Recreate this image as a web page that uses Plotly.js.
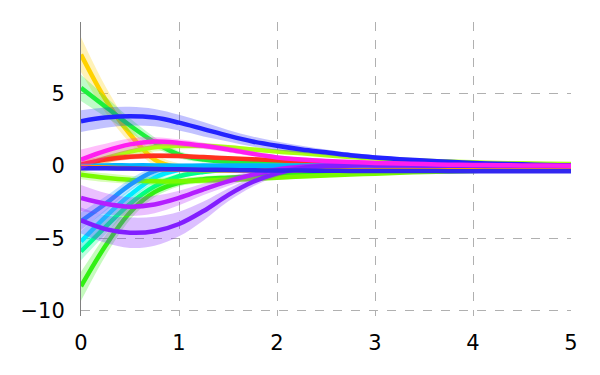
<!DOCTYPE html>
<html>
<head>
<meta charset="utf-8">
<script src="https://cdn.plot.ly/plotly-3.0.1.min.js"></script>
<style>
  body { margin: 0; background: #fff; }
  #chart { width: 600px; height: 375px; }
</style>
</head>
<body>
<div id="chart"></div>
<script>
  // time grid
  let xs = [0, 0.25, 0.5, 0.75, 1, 1.25, 1.5, 1.75, 2, 2.25, 2.5, 2.75, 3, 3.25, 3.5, 3.75, 4, 4.25, 4.5, 4.75, 5];

  // mean trajectories
  let goldMean = [7.7, 4.6, 2.2, 0.45, -0.1, -0.2, -0.2, -0.15, -0.12, -0.1, -0.08, -0.06, -0.05, -0.04, -0.03, -0.02, -0.02, -0.01, -0.01, 0, 0];
  let greenMean = [5.4, 4.1, 2.8, 1.65, 0.8, 0.45, 0.3, 0.25, 0.2, 0.18, 0.16, 0.15, 0.14, 0.13, 0.12, 0.12, 0.11, 0.11, 0.1, 0.1, 0.1];
  let chartreuseMean = [0.0, 0.55, 1.0, 1.3, 1.4, 1.4, 1.3, 1.15, 1.0, 0.88, 0.75, 0.63, 0.52, 0.44, 0.37, 0.31, 0.26, 0.22, 0.19, 0.17, 0.15];
  let redMean = [0.1, 0.45, 0.65, 0.72, 0.7, 0.62, 0.55, 0.47, 0.4, 0.33, 0.28, 0.23, 0.2, 0.16, 0.13, 0.11, 0.09, 0.07, 0.06, 0.05, 0.05];
  let cyanMean = [-5.2, -3.5, -2.0, -0.8, -0.25, -0.05, 0.0, 0.02, 0.02, 0.02, 0.02, 0.01, 0.01, 0.01, 0.01, 0, 0, 0, 0, 0, 0];
  let springMean = [-5.9, -4.2, -2.6, -1.4, -0.7, -0.4, -0.25, -0.15, -0.1, -0.08, -0.06, -0.05, -0.04, -0.03, -0.03, -0.02, -0.02, -0.02, -0.01, -0.01, -0.01];
  let limeMean = [-8.3, -5.5, -3.2, -1.8, -1.15, -0.9, -0.8, -0.72, -0.65, -0.58, -0.52, -0.46, -0.41, -0.37, -0.33, -0.29, -0.26, -0.23, -0.21, -0.19, -0.17];
  let lawnMean = [-0.6, -0.8, -0.95, -1.05, -1.05, -1.0, -0.95, -0.88, -0.8, -0.72, -0.65, -0.58, -0.52, -0.46, -0.41, -0.37, -0.33, -0.29, -0.26, -0.24, -0.22];
  let dodgerMean = [-3.8, -2.6, -1.3, -0.35, -0.05, 0.02, 0.03, 0.03, 0.03, 0.02, 0.02, 0.02, 0.01, 0.01, 0.01, 0, 0, 0, 0, 0, 0];
  let skyMean = [0.0, 0.05, 0.05, 0.05, 0.03, 0.02, 0.01, 0, -0.01, -0.02, -0.03, -0.04, -0.05, -0.06, -0.07, -0.08, -0.09, -0.1, -0.1, -0.1, -0.1];
  let orangeMean = [-0.05, -0.1, -0.15, -0.2, -0.25, -0.28, -0.3, -0.3, -0.3, -0.3, -0.29, -0.28, -0.27, -0.26, -0.25, -0.24, -0.23, -0.22, -0.21, -0.2, -0.2];
  let purpleMean = [-2.2, -2.6, -2.8, -2.65, -2.2, -1.6, -1.05, -0.6, -0.25, -0.05, 0.05, 0.08, 0.08, 0.07, 0.06, 0.05, 0.04, 0.03, 0.02, 0.02, 0.01];
  let violetMean = [-3.75, -4.35, -4.6, -4.5, -4.0, -3.1, -2.0, -1.1, -0.5, -0.15, 0.0, 0.05, 0.05, 0.04, 0.03, 0.02, 0.02, 0.01, 0.01, 0, 0];
  let navyMean = [-0.15, -0.15, -0.17, -0.2, -0.22, -0.25, -0.27, -0.29, -0.3, -0.31, -0.32, -0.33, -0.33, -0.34, -0.34, -0.35, -0.35, -0.35, -0.35, -0.35, -0.35];
  let blueMean = [3.1, 3.35, 3.45, 3.35, 3.0, 2.55, 2.1, 1.7, 1.4, 1.15, 0.95, 0.75, 0.6, 0.48, 0.38, 0.3, 0.22, 0.16, 0.12, 0.08, 0.05];
  let magentaMean = [0.45, 1.05, 1.5, 1.7, 1.6, 1.4, 1.15, 0.85, 0.6, 0.45, 0.35, 0.28, 0.22, 0.18, 0.14, 0.1, 0.08, 0.06, 0.05, 0.04, 0.03];

  // band half-widths
  let goldBand = [1.2, 0.9, 0.6, 0.4, 0.3, 0.25, 0.2, 0.18, 0.16, 0.14, 0.12, 0.11, 0.1, 0.1, 0.09, 0.09, 0.08, 0.08, 0.08, 0.07, 0.07];
  let greenBand = [0.9, 0.7, 0.5, 0.35, 0.25, 0.2, 0.18, 0.16, 0.14, 0.12, 0.11, 0.1, 0.1, 0.09, 0.09, 0.08, 0.08, 0.08, 0.07, 0.07, 0.07];
  let chartreuseBand = [0.5, 0.4, 0.35, 0.3, 0.25, 0.2, 0.18, 0.16, 0.14, 0.12, 0.11, 0.1, 0.1, 0.09, 0.09, 0.08, 0.08, 0.08, 0.07, 0.07, 0.07];
  let redBand = [0.3, 0.25, 0.2, 0.18, 0.16, 0.14, 0.12, 0.1, 0.1, 0.09, 0.08, 0.08, 0.07, 0.07, 0.06, 0.06, 0.06, 0.05, 0.05, 0.05, 0.05];
  let cyanBand = [0.7, 0.5, 0.4, 0.3, 0.2, 0.15, 0.12, 0.1, 0.1, 0.09, 0.08, 0.08, 0.07, 0.07, 0.06, 0.06, 0.06, 0.05, 0.05, 0.05, 0.05];
  let springBand = [0.6, 0.5, 0.4, 0.3, 0.2, 0.15, 0.12, 0.1, 0.1, 0.09, 0.08, 0.08, 0.07, 0.07, 0.06, 0.06, 0.06, 0.05, 0.05, 0.05, 0.05];
  let limeBand = [1.0, 0.7, 0.5, 0.35, 0.25, 0.2, 0.18, 0.16, 0.14, 0.12, 0.11, 0.1, 0.1, 0.09, 0.09, 0.08, 0.08, 0.08, 0.07, 0.07, 0.07];
  let lawnBand = [0.3, 0.3, 0.28, 0.26, 0.24, 0.22, 0.2, 0.18, 0.16, 0.14, 0.12, 0.11, 0.1, 0.1, 0.09, 0.09, 0.08, 0.08, 0.08, 0.07, 0.07];
  let dodgerBand = [0.6, 0.5, 0.4, 0.3, 0.2, 0.15, 0.12, 0.1, 0.1, 0.09, 0.08, 0.08, 0.07, 0.07, 0.06, 0.06, 0.06, 0.05, 0.05, 0.05, 0.05];
  let skyBand = [0.15, 0.15, 0.14, 0.13, 0.12, 0.11, 0.1, 0.1, 0.09, 0.09, 0.08, 0.08, 0.07, 0.07, 0.06, 0.06, 0.06, 0.05, 0.05, 0.05, 0.05];
  let orangeBand = [0.1, 0.1, 0.1, 0.1, 0.09, 0.09, 0.08, 0.08, 0.07, 0.07, 0.06, 0.06, 0.06, 0.05, 0.05, 0.05, 0.05, 0.05, 0.05, 0.05, 0.05];
  let purpleBand = [0.9, 0.75, 0.65, 0.6, 0.5, 0.4, 0.32, 0.25, 0.2, 0.16, 0.13, 0.11, 0.1, 0.09, 0.08, 0.08, 0.07, 0.07, 0.06, 0.06, 0.06];
  let violetBand = [0.9, 0.95, 1.05, 1.0, 0.85, 0.65, 0.45, 0.32, 0.24, 0.18, 0.14, 0.12, 0.1, 0.09, 0.08, 0.08, 0.07, 0.07, 0.06, 0.06, 0.06];
  let navyBand = [0.15, 0.15, 0.14, 0.13, 0.12, 0.11, 0.1, 0.1, 0.09, 0.09, 0.08, 0.08, 0.07, 0.07, 0.07, 0.07, 0.07, 0.07, 0.07, 0.07, 0.07];
  let blueBand = [0.75, 0.7, 0.65, 0.6, 0.55, 0.5, 0.4, 0.35, 0.3, 0.25, 0.2, 0.18, 0.15, 0.12, 0.1, 0.1, 0.08, 0.08, 0.07, 0.07, 0.06];
  let magentaBand = [0.7, 0.5, 0.4, 0.3, 0.25, 0.22, 0.2, 0.18, 0.15, 0.13, 0.11, 0.1, 0.09, 0.08, 0.08, 0.07, 0.07, 0.06, 0.06, 0.06, 0.06];

  let series = [
    { mean: goldMean, band: goldBand, rgb: "255,210,0" },
    { mean: greenMean, band: greenBand, rgb: "30,240,60" },
    { mean: chartreuseMean, band: chartreuseBand, rgb: "170,255,20" },
    { mean: redMean, band: redBand, rgb: "255,50,30" },
    { mean: springMean, band: springBand, rgb: "0,255,140" },
    { mean: cyanMean, band: cyanBand, rgb: "0,235,255" },
    { mean: limeMean, band: limeBand, rgb: "50,240,20" },
    { mean: lawnMean, band: lawnBand, rgb: "120,250,0" },
    { mean: dodgerMean, band: dodgerBand, rgb: "30,150,255" },
    { mean: skyMean, band: skyBand, rgb: "0,180,255" },
    { mean: orangeMean, band: orangeBand, rgb: "255,150,0" },
    { mean: purpleMean, band: purpleBand, rgb: "180,30,255" },
    { mean: violetMean, band: violetBand, rgb: "130,30,255" },
    { mean: navyMean, band: navyBand, rgb: "50,40,240" },
    { mean: blueMean, band: blueBand, rgb: "35,35,255" },
    { mean: magentaMean, band: magentaBand, rgb: "255,30,240" }
  ];

  let traces = [];
  series.forEach(function(s) {
    let lower = s.mean.map(function(v, i) { return v - s.band[i]; });
    let upper = s.mean.map(function(v, i) { return v + s.band[i]; });
    traces.push({
      x: xs, y: lower, type: "scatter", mode: "lines",
      line: { width: 0, shape: "spline" }, hoverinfo: "skip", showlegend: false
    });
    traces.push({
      x: xs, y: upper, type: "scatter", mode: "lines", fill: "tonexty",
      fillcolor: "rgba(" + s.rgb + ",0.28)",
      line: { width: 0, shape: "spline" }, hoverinfo: "skip", showlegend: false
    });
    traces.push({
      x: xs, y: s.mean, type: "scatter", mode: "lines",
      line: { color: "rgb(" + s.rgb + ")", width: 4.5, shape: "spline" },
      showlegend: false
    });
  });

  let layout = {
    width: 600,
    height: 375,
    margin: { l: 81, r: 29, t: 22, b: 59 },
    paper_bgcolor: "#fff",
    plot_bgcolor: "#fff",
    font: { family: "DejaVu Sans", size: 21, color: "#000" },
    showlegend: false,
    xaxis: {
      range: [0, 5],
      tickvals: [0, 1, 2, 3, 4, 5],
      showgrid: true,
      gridcolor: "#b0b0b0",
      griddash: "dash",
      gridwidth: 1,
      zeroline: false,
      showline: false,
      ticks: "",
      ticklen: 0,
      ticklabelstandoff: 12
    },
    yaxis: {
      range: [-10.35, 9.95],
      tickvals: [-10, -5, 0, 5],
      showgrid: true,
      gridcolor: "#b0b0b0",
      griddash: "dash",
      gridwidth: 1,
      zeroline: false,
      showline: true,
      linecolor: "#808080",
      linewidth: 1,
      ticks: "",
      ticklen: 0,
      ticklabelstandoff: 11
    }
  };

  Plotly.newPlot("chart", traces, layout, { staticPlot: true });
</script>
</body>
</html>
